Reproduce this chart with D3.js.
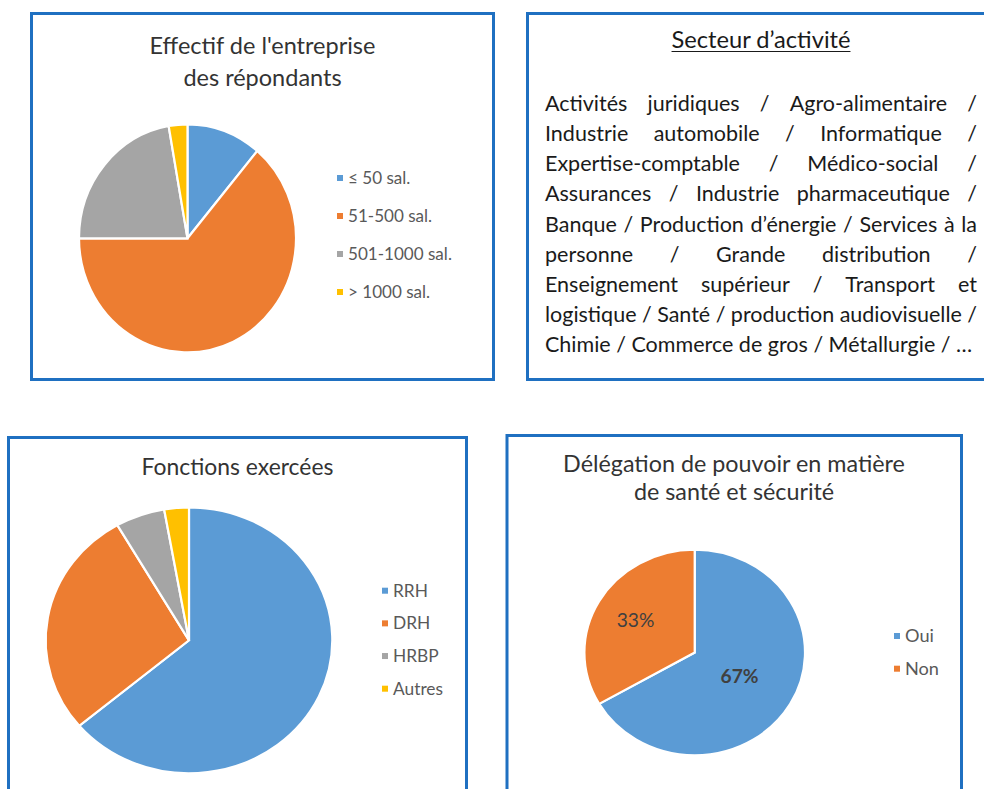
<!DOCTYPE html>
<html><head><meta charset="utf-8">
<script src="https://cdn.jsdelivr.net/npm/d3@7"></script>
<style>html,body{margin:0;padding:0;background:#fff;} svg{display:block;}</style>
</head><body>
<svg id="c" width="984" height="789"></svg>
<script>
// ---- data ----
const effectifTitle = ["Effectif de l'entreprise", "des répondants"];
const effectifCategories = ["≤ 50 sal.", "51-500 sal.", "501-1000 sal.", "> 1000 sal."];
const effectifValues = [4, 23, 8, 1];

const fonctionsTitle = ["Fonctions exercées"];
const fonctionsCategories = ["RRH", "DRH", "HRBP", "Autres"];
const fonctionsValues = [23, 10, 2, 1];

const delegationTitle = ["Délégation de pouvoir en matière", "de santé et sécurité"];
const delegationCategories = ["Oui", "Non"];
const delegationValues = [24, 12];
const delegationLabels = ["67%", "33%"];

const secteurTitle = "Secteur d’activité";
const secteurLines = [
  "Activités juridiques / Agro-alimentaire /",
  "Industrie automobile / Informatique /",
  "Expertise-comptable / Médico-social /",
  "Assurances / Industrie pharmaceutique /",
  "Banque / Production d’énergie / Services à la",
  "personne / Grande distribution /",
  "Enseignement supérieur / Transport et",
  "logistique / Santé / production audiovisuelle /",
  "Chimie / Commerce de gros / Métallurgie / …"
];

const palette = ["#5B9BD5", "#ED7D31", "#A5A5A5", "#FFC000"];
const FONT = "Lato, 'Open Sans', sans-serif";
const BORDER = "#1F70C1";

const svg = d3.select("#c");

function measure(text, size, weight) {
  const t = svg.append("text").attr("font-family", FONT).attr("font-size", size)
    .attr("font-weight", weight || "normal").text(text);
  const w = t.node().getComputedTextLength();
  t.remove();
  return w;
}
function fitSize(text, target, weight) {
  return 100 * target / measure(text, 100, weight);
}

function box(x, y, w, h) {
  svg.append("rect").attr("x", x).attr("y", y).attr("width", w).attr("height", h)
    .attr("fill", "#fff").attr("stroke", BORDER).attr("stroke-width", 3);
}

function title(lines, cx, baselines, targetWidth) {
  const size = fitSize(lines[0], targetWidth);
  lines.forEach((l, i) => {
    svg.append("text").attr("x", cx).attr("y", baselines[i]).attr("text-anchor", "middle")
      .attr("font-family", FONT).attr("font-size", size).attr("fill", "#333").text(l);
  });
}

function drawPie(values, cx, cy, rx, ry) {
  const arcs = d3.pie().sort(null).value(d => d)(values);
  const arc = d3.arc().innerRadius(0).outerRadius(rx);
  const g = svg.append("g").attr("transform", `translate(${cx},${cy}) scale(1,${ry / rx})`);
  g.selectAll("path").data(arcs).join("path")
    .attr("d", arc)
    .attr("fill", (d, i) => palette[i])
    .attr("stroke", "#fff").attr("stroke-width", 2.2)
    .attr("vector-effect", "non-scaling-stroke");
  return arcs;
}

function legend(cats, x, rows, sizeRef, sizeWidth) {
  const size = fitSize(sizeRef, sizeWidth);
  const y = d3.scalePoint().domain(cats).range([rows[0], rows[1]]);
  const g = svg.append("g");
  cats.forEach((c, i) => {
    g.append("rect").attr("x", x).attr("y", y(c) - 3).attr("width", 6).attr("height", 6).attr("fill", palette[i]);
    g.append("text").attr("x", x + 11).attr("y", y(c)).attr("dy", "0.35em")
      .attr("font-family", FONT).attr("font-size", size).attr("fill", "#595959").text(c);
  });
}

// ---- Panel 1 : Effectif ----
box(31.5, 13.5, 462, 366);
title(effectifTitle, 262.5, [54, 86], 226);
drawPie(effectifValues, 187.5, 238.3, 108.5, 114);
legend(effectifCategories, 337, [178, 292], "501-1000 sal.", 104);

// ---- Panel 2 : Secteur d'activité ----
box(527.5, 13.5, 470, 366);
{
  const tsize = fitSize(secteurTitle, 179);
  const tw = measure(secteurTitle, tsize);
  svg.append("text").attr("x", 761).attr("y", 48).attr("text-anchor", "middle")
    .attr("font-family", FONT).attr("font-size", tsize).attr("fill", "#1a1a1a").text(secteurTitle);
  svg.append("line").attr("x1", 761 - tw / 2).attr("x2", 761 + tw / 2).attr("y1", 51.5).attr("y2", 51.5)
    .attr("stroke", "#1a1a1a").attr("stroke-width", 1.2);

  const left = 545, right = 977, W = right - left;
  let size = fitSize(secteurLines[secteurLines.length - 1], 428);
  const maxNat = d3.max(secteurLines, l => measure(l, size));
  if (maxNat > W) size = size * W / maxNat;
  const spaceW = measure("a a", size) - measure("aa", size);
  const lineY = d3.scaleLinear().domain([0, secteurLines.length - 1]).range([111, 352]);
  secteurLines.forEach((line, i) => {
    const words = line.split(" ");
    const widths = words.map(w => measure(w, size));
    const last = i === secteurLines.length - 1;
    const gap = last ? spaceW : (W - d3.sum(widths)) / (words.length - 1);
    let x = left;
    words.forEach((w, j) => {
      svg.append("text").attr("x", x).attr("y", lineY(i))
        .attr("font-family", FONT).attr("font-size", size).attr("fill", "#1a1a1a").text(w);
      x += widths[j] + gap;
    });
  });
}

// ---- Panel 3 : Fonctions exercées ----
box(8.5, 437.5, 458, 370);
title(fonctionsTitle, 237.5, [475], 192);
drawPie(fonctionsValues, 189, 640.3, 143.3, 133);
legend(fonctionsCategories, 382, [590.7, 688.7], "Autres", 50);

// ---- Panel 4 : Délégation ----
box(507, 435.5, 454.5, 372);
title(delegationTitle, 734, [471.7, 500], 342);
{
  const cx = 694.7, cy = 652.5, rx = 110.3, ry = 102.8;
  const arcs = drawPie(delegationValues, cx, cy, rx, ry);
  const labelFrac = [0.47, 0.62];
  const lsize = fitSize("33%", 37.7);
  arcs.forEach((a, i) => {
    const r = rx * labelFrac[i];
    const c = d3.arc().innerRadius(r).outerRadius(r).centroid(a);
    svg.append("text").attr("x", cx + c[0]).attr("y", cy + c[1] * ry / rx).attr("dy", "0.35em")
      .attr("text-anchor", "middle").attr("font-family", FONT).attr("font-size", lsize)
      .attr("font-weight", i === 0 ? "bold" : "normal").attr("fill", "#404040")
      .text(delegationLabels[i]);
  });
  legend(delegationCategories, 894, [636, 668.7], "Non", 34);
}
</script>
</body></html>
